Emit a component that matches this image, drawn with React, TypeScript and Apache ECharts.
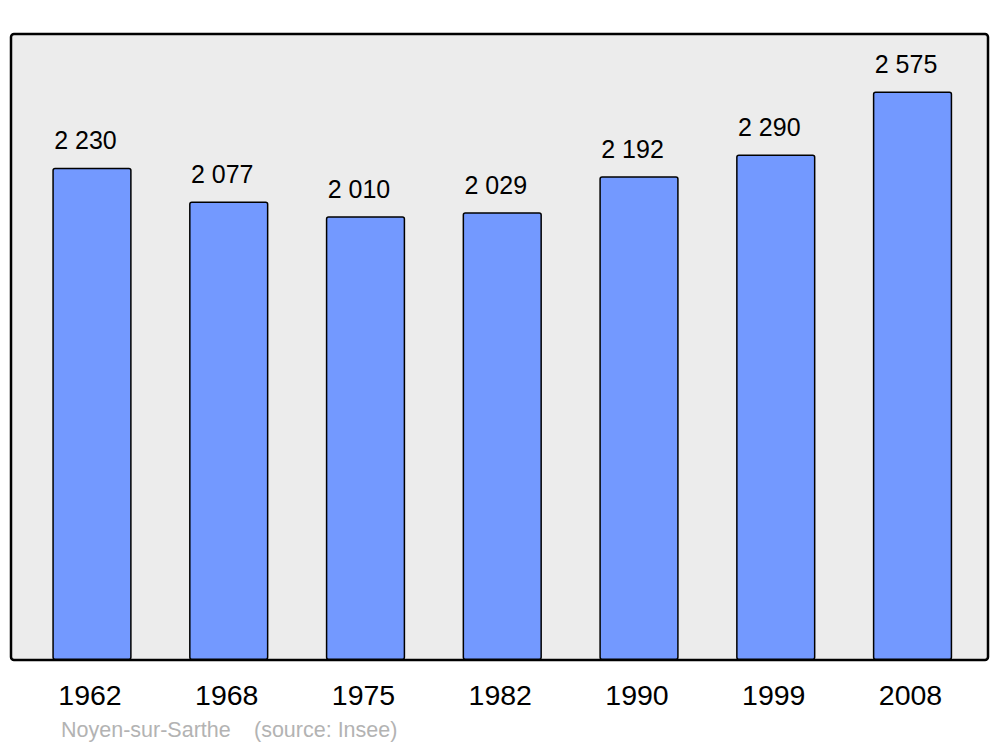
import React, { useEffect, useRef } from "react";
import * as echarts from "echarts";

const years = ["1962", "1968", "1975", "1982", "1990", "1999", "2008"];
const population = [2230, 2077, 2010, 2029, 2192, 2290, 2575];
const footerTitle = "Noyen-sur-Sarthe";
const footerSource = "(source: Insee)";

const FONT = "'Liberation Sans', Arial, sans-serif";

function fmt(v: number): string {
  return String(v).replace(/\B(?=(\d{3})+(?!\d))/g, " ");
}

export default function App() {
  const ref = useRef<HTMLDivElement>(null);
  useEffect(() => {
    if (!ref.current) return;
    const chart = echarts.init(ref.current, null, { renderer: "svg" });
    chart.setOption({
      animation: false,
      backgroundColor: "#ffffff",
      grid: { left: 23.6, right: 19.1, top: 34, bottom: 87, containLabel: false },
      graphic: [
        {
          type: "rect",
          z: 0,
          shape: { x: 11, y: 34, width: 977, height: 626, r: 3 },
          style: { fill: "#ececec", stroke: "#000000", lineWidth: 2.5 },
        },
        {
          type: "text",
          z: 10,
          x: 61,
          y: 730,
          style: {
            text: footerTitle,
            fill: "#b3b3b3",
            font: `21.5px ${FONT}`,
            verticalAlign: "middle",
            align: "left",
          },
        },
        {
          type: "text",
          z: 10,
          x: 254,
          y: 730,
          style: {
            text: footerSource,
            fill: "#b3b3b3",
            font: `21.5px ${FONT}`,
            verticalAlign: "middle",
            align: "left",
          },
        },
      ],
      xAxis: {
        type: "category",
        data: years,
        boundaryGap: true,
        axisLine: { show: false },
        axisTick: { show: false },
        axisLabel: {
          color: "#000000",
          fontSize: 28.5,
          fontFamily: FONT,
          margin: 20,
          padding: [0, 4, 0, 0],
        },
      },
      yAxis: {
        type: "value",
        min: 0,
        max: 2836,
        show: false,
        splitLine: { show: false },
      },
      series: [
        {
          type: "bar",
          data: population,
          barWidth: "58%",
          z: 2,
          itemStyle: {
            color: "#7399ff",
            borderColor: "#000000",
            borderWidth: 1.5,
            borderRadius: 2,
          },
          label: {
            show: true,
            position: "top",
            distance: 15,
            offset: [-6.5, 0],
            color: "#000000",
            fontSize: 25,
            fontFamily: FONT,
            formatter: (p: any) => fmt(p.value),
          },
        },
      ],
    });
    return () => chart.dispose();
  }, []);
  return (
    <div
      ref={ref}
      style={{ position: "fixed", left: 0, top: 0, width: 1000, height: 747 }}
    />
  );
}
